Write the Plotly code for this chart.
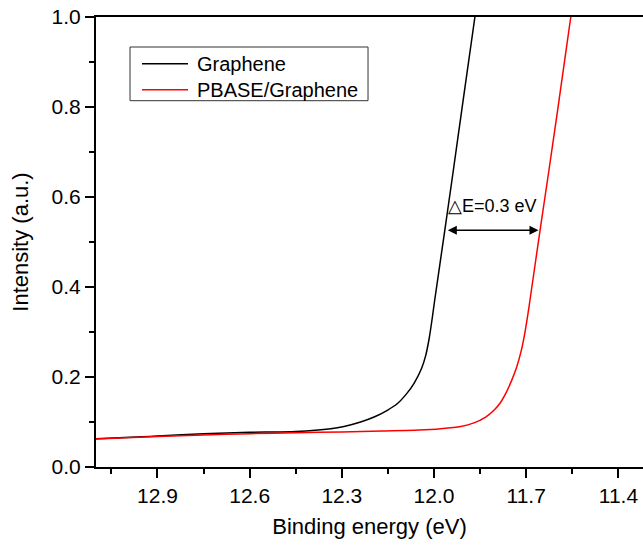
import plotly.graph_objects as go

# Binding energy (eV) and normalised intensity for each sample
graphene_energy = [13.10, 12.95, 12.90, 12.75, 12.60, 12.45, 12.336, 12.293, 12.239,
                   12.195, 12.152, 12.119, 12.089, 12.065, 12.040, 12.027, 12.016,
                   12.006, 11.998, 11.965, 11.937, 11.910, 11.867]
graphene_intensity = [0.063, 0.067, 0.069, 0.074, 0.077, 0.079, 0.085, 0.090, 0.100,
                      0.111, 0.126, 0.141, 0.163, 0.186, 0.220, 0.248, 0.285,
                      0.330, 0.370, 0.526, 0.660, 0.792, 1.000]

pbase_energy = [13.10, 12.90, 12.75, 12.60, 12.45, 12.30, 12.17, 12.05, 11.978, 11.913,
                11.870, 11.832, 11.805, 11.783, 11.767, 11.747, 11.731, 11.716,
                11.705, 11.696, 11.688, 11.655, 11.626, 11.598, 11.555]
pbase_intensity = [0.062, 0.068, 0.071, 0.074, 0.076, 0.078, 0.080, 0.082, 0.085, 0.090,
                   0.098, 0.111, 0.126, 0.144, 0.163, 0.193, 0.222, 0.259,
                   0.296, 0.333, 0.370, 0.526, 0.660, 0.792, 1.000]

series_names = ["Graphene", "PBASE/Graphene"]
series_colors = ["black", "#ff0000"]

# Work-function shift marker
shift_label = "△E=0.3 eV"
shift_value = 0.3
shift_start = 11.96
shift_level = 0.526

x_ticks = [12.9, 12.6, 12.3, 12.0, 11.7, 11.4]
y_ticks = [0.0, 0.2, 0.4, 0.6, 0.8, 1.0]

FONT = "Liberation Sans, Arial, sans-serif"

fig = go.Figure()
for xs, ys, name, color in [(graphene_energy, graphene_intensity, series_names[0], series_colors[0]),
                            (pbase_energy, pbase_intensity, series_names[1], series_colors[1])]:
    fig.add_trace(go.Scatter(x=xs, y=ys, mode="lines", name=name, showlegend=False,
                             line=dict(color=color, width=1.5, shape="spline", smoothing=0.7)))

# double-headed arrow between the two onsets
fig.add_annotation(x=shift_start - shift_value, y=shift_level,
                   ax=shift_start, ay=shift_level, xref="x", yref="y",
                   axref="x", ayref="y", text="", showarrow=True,
                   arrowhead=2, arrowsize=1.2, arrowwidth=1.5, arrowcolor="black",
                   arrowside="end+start")
fig.add_annotation(x=shift_start - shift_value / 2, y=shift_level + 0.053,
                   xref="x", yref="y", text=shift_label, showarrow=False,
                   font=dict(family=FONT, size=18, color="black"))

# framed legend box with line samples
fig.add_shape(type="rect", xref="paper", yref="paper", x0=0.0622, x1=0.4973,
              y0=0.814, y1=0.9333, line=dict(color="#333333", width=1),
              fillcolor="white", layer="above")
for i, (name, color) in enumerate(zip(series_names, series_colors)):
    row_y = 0.8962 - i * 0.0578
    fig.add_shape(type="line", xref="paper", yref="paper", x0=0.0841, x1=0.1682,
                  y0=row_y, y1=row_y, line=dict(color=color, width=1.5), layer="above")
    fig.add_annotation(x=0.181, y=row_y, xref="paper", yref="paper", text=name,
                       showarrow=False, xanchor="left", yanchor="middle",
                       font=dict(family=FONT, size=20, color="black"))

axis_common = dict(showline=True, linecolor="black", linewidth=2,
                   ticks="outside", ticklen=9, tickwidth=1.5, tickcolor="black",
                   showgrid=False, zeroline=False,
                   tickfont=dict(family=FONT, size=21, color="black"))

fig.update_xaxes(range=[13.1, 11.32], tickvals=x_ticks,
                 ticktext=[f"{v:.1f}" for v in x_ticks], mirror=True,
                 minor=dict(dtick=0.15, tick0=12.0, ticks="outside", ticklen=5,
                            tickwidth=1.5, tickcolor="black"),
                 title=dict(text="Binding energy (eV)", standoff=12,
                            font=dict(family=FONT, size=22, color="black")),
                 **axis_common)
fig.update_yaxes(range=[0, 1.0], tickvals=y_ticks,
                 ticktext=[f"{v:.1f}" for v in y_ticks],
                 minor=dict(dtick=0.1, tick0=0, ticks="outside", ticklen=5,
                            tickwidth=1.5, tickcolor="black"),
                 title=dict(text="Intensity (a.u.)", standoff=17,
                            font=dict(family=FONT, size=22, color="black")),
                 **axis_common)

fig.update_layout(width=643, height=545,
                  margin=dict(l=96, r=0, t=17, b=78),
                  plot_bgcolor="white", paper_bgcolor="white",
                  font=dict(family=FONT, color="black"),
                  showlegend=False)

fig.write_html("out.html")
